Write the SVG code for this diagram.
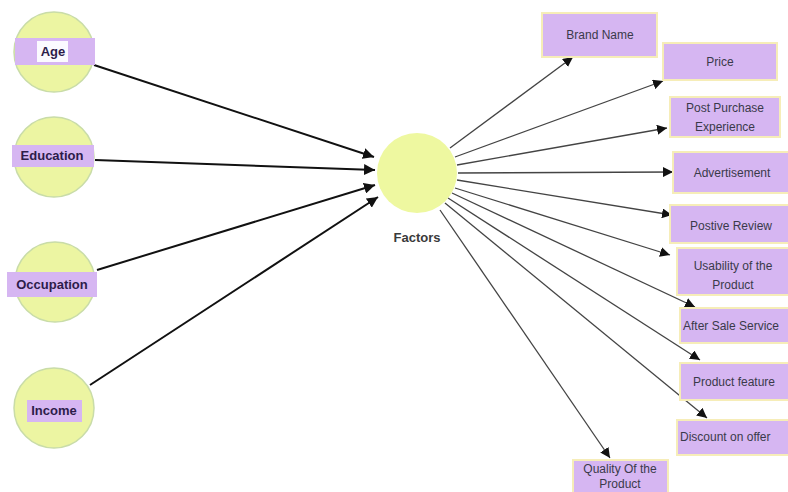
<svg xmlns="http://www.w3.org/2000/svg" width="788" height="492" viewBox="0 0 788 492">
<defs>
<marker id="ah" viewBox="0 0 10 10" refX="10" refY="5" markerWidth="10" markerHeight="10" markerUnits="userSpaceOnUse" orient="auto"><path d="M0,0 L10,5 L0,10 z" fill="#111"/></marker>
<marker id="ahs" viewBox="0 0 10 10" refX="10" refY="5" markerWidth="11" markerHeight="11" markerUnits="userSpaceOnUse" orient="auto"><path d="M0,0 L10,5 L0,10 z" fill="#111"/></marker>
</defs>
<style>
.circ{fill:#ecf5a2;stroke:#c9dca8;stroke-width:1.5}
.band{fill:#d6b6f2}
.lbl{font-family:"Liberation Sans",Arial,sans-serif;font-weight:bold;font-size:13px;fill:#2d1c4a;text-anchor:middle}
.box{fill:#d6b6f2;stroke:#f6edb8;stroke-width:2}
.bt{font-family:"Liberation Sans",Arial,sans-serif;font-size:12px;fill:#3a3a4a;text-anchor:middle}
.bts{font-family:"Liberation Sans",Arial,sans-serif;font-size:12px;fill:#3a3a4a;text-anchor:start}
.in{stroke:#111;stroke-width:2;fill:none}
.out{stroke:#444;stroke-width:1.3;fill:none}
</style>
<rect width="788" height="492" fill="#fff"/>
<g id="connectors">
<line class="in" x1="94" y1="65" x2="374" y2="157" marker-end="url(#ahs)"/>
<line class="in" x1="95" y1="160" x2="375" y2="170" marker-end="url(#ahs)"/>
<line class="in" x1="97" y1="270" x2="375" y2="185" marker-end="url(#ahs)"/>
<line class="in" x1="90" y1="385" x2="378" y2="197" marker-end="url(#ahs)"/>
<line class="out" x1="450" y1="148" x2="573" y2="57" marker-end="url(#ah)"/>
<line class="out" x1="455" y1="157" x2="663" y2="81" marker-end="url(#ah)"/>
<line class="out" x1="457" y1="165" x2="667" y2="128" marker-end="url(#ah)"/>
<line class="out" x1="458" y1="173" x2="673" y2="172" marker-end="url(#ah)"/>
<line class="out" x1="457" y1="180" x2="672" y2="215" marker-end="url(#ah)"/>
<line class="out" x1="455" y1="188" x2="670" y2="255" marker-end="url(#ah)"/>
<line class="out" x1="452" y1="193" x2="695" y2="307" marker-end="url(#ah)"/>
<line class="out" x1="448" y1="198" x2="700" y2="360" marker-end="url(#ah)"/>
<line class="out" x1="445" y1="203" x2="707" y2="418" marker-end="url(#ah)"/>
<line class="out" x1="440" y1="210" x2="610" y2="458" marker-end="url(#ah)"/>
</g>
<g id="age">
<circle class="circ" cx="54" cy="52" r="40"/>
<rect class="band" x="15" y="38" width="80" height="27"/>
<rect x="37" y="41" width="31" height="21" fill="#fbfaff"/>
<text class="lbl" x="53" y="56">Age</text>
</g>
<g id="education">
<circle class="circ" cx="54" cy="157" r="40"/>
<rect class="band" x="12" y="145" width="82" height="22"/>
<text class="lbl" x="52" y="160">Education</text>
</g>
<g id="occupation">
<circle class="circ" cx="55" cy="282" r="40"/>
<rect class="band" x="7" y="272" width="90" height="25"/>
<text class="lbl" x="52" y="289">Occupation</text>
</g>
<g id="income">
<circle class="circ" cx="54" cy="408" r="40"/>
<rect class="band" x="27" y="400" width="55" height="22"/>
<text class="lbl" x="54" y="415">Income</text>
</g>
<g id="factors">
<circle cx="417" cy="173" r="40" fill="#eef8a0"/>
<text x="417" y="242" font-family="'Liberation Sans',Arial,sans-serif" font-weight="bold" font-size="13" fill="#3a3a3a" text-anchor="middle">Factors</text>
</g>
<g id="brand-name">
<rect class="box" x="542" y="13" width="115" height="44"/>
<text class="bt" x="600" y="39">Brand Name</text>
</g>
<g id="price">
<rect class="box" x="663" y="43" width="114" height="37"/>
<text class="bt" x="720" y="66">Price</text>
</g>
<g id="post-purchase">
<rect class="box" x="670" y="97" width="110" height="40"/>
<text class="bt" x="725" y="112">Post Purchase</text>
<text class="bt" x="725" y="131">Experience</text>
</g>
<g id="advertisement">
<rect class="box" x="673" y="152" width="120" height="41"/>
<text class="bt" x="732" y="177">Advertisement</text>
</g>
<g id="positive-review">
<rect class="box" x="670" y="205" width="124" height="38"/>
<text class="bt" x="731" y="230">Postive Review</text>
</g>
<g id="usability">
<rect class="box" x="677" y="248" width="116" height="47"/>
<text class="bt" x="733" y="270">Usability of  the</text>
<text class="bt" x="733" y="289">Product</text>
</g>
<g id="after-sale">
<rect class="box" x="680" y="308" width="114" height="35"/>
<text class="bts" x="683" y="330">After Sale Service</text>
</g>
<g id="product-feature">
<rect class="box" x="680" y="363" width="114" height="37"/>
<text class="bt" x="734" y="386">Product feature</text>
</g>
<g id="discount">
<rect class="box" x="677" y="420" width="116" height="35"/>
<text class="bts" x="680" y="441">Discount on offer</text>
</g>
<g id="quality">
<rect class="box" x="573" y="460" width="95" height="40"/>
<text class="bt" x="620" y="473">Quality Of the</text>
<text class="bt" x="620" y="488">Product</text>
</g>
</svg>
